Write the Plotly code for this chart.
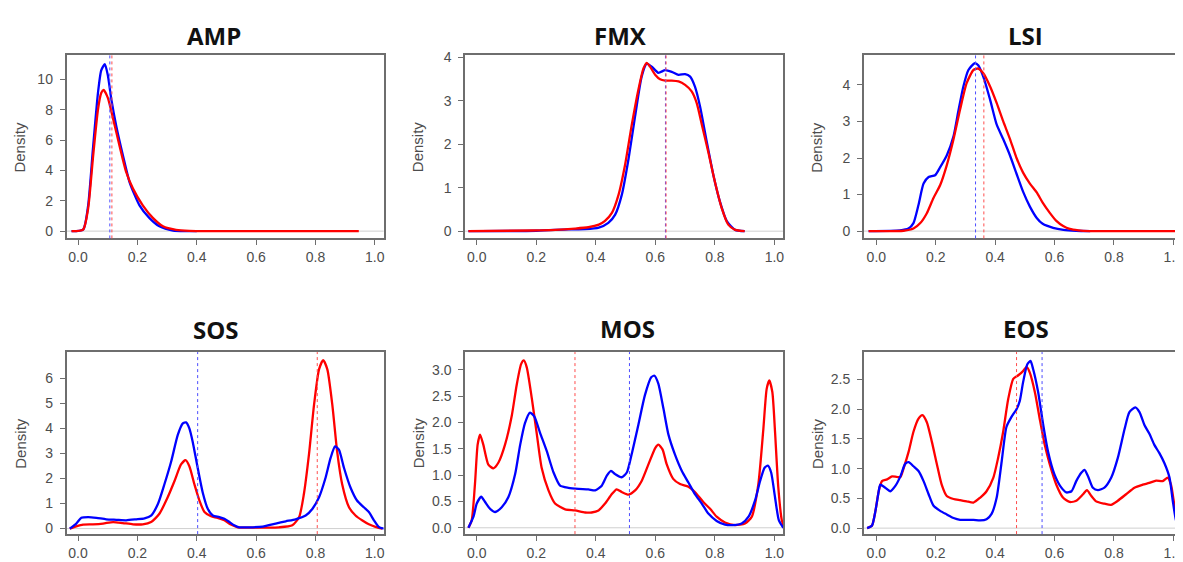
import plotly.graph_objects as go

# The page body has an 8px default margin, so the figure is drawn 8px in from the
# top-left corner; all pixel positions below are screen positions, shifted by OFF.
OFF = 8
W, H = 1183 - OFF, 562 - OFF
BLUE = "#0000ff"
RED = "#ff0000"
BLUE_DOT = "#4d4dff"
RED_DOT = "#ff4d4d"

# ---------------- data ----------------
titles = ["AMP", "FMX", "LSI", "SOS", "MOS", "EOS"]
x_tick_vals = [0, 0.2, 0.4, 0.6, 0.8, 1.0]
x_tick_text = ["0.0", "0.2", "0.4", "0.6", "0.8", "1.0"]

amp_y_ticks = [0, 2, 4, 6, 8, 10]
amp_y_text = ["0", "2", "4", "6", "8", "10"]
fmx_y_ticks = [0, 1, 2, 3, 4]
fmx_y_text = ["0", "1", "2", "3", "4"]
lsi_y_ticks = [0, 1, 2, 3, 4]
lsi_y_text = ["0", "1", "2", "3", "4"]
sos_y_ticks = [0, 1, 2, 3, 4, 5, 6]
sos_y_text = ["0", "1", "2", "3", "4", "5", "6"]
mos_y_ticks = [0, 0.5, 1.0, 1.5, 2.0, 2.5, 3.0]
mos_y_text = ["0.0", "0.5", "1.0", "1.5", "2.0", "2.5", "3.0"]
eos_y_ticks = [0, 0.5, 1.0, 1.5, 2.0, 2.5]
eos_y_text = ["0.0", "0.5", "1.0", "1.5", "2.0", "2.5"]

amp_blue_x = [-0.022, 0.017, 0.034, 0.05, 0.067, 0.078, 0.09, 0.10, 0.112, 0.129, 0.151, 0.174, 0.207, 0.24, 0.274, 0.32, 0.364, 0.40]
amp_blue_y = [0, 0.1, 1.7, 5.4, 9.1, 10.6, 11.0, 10.3, 8.7, 6.9, 5.0, 3.2, 1.7, 0.87, 0.32, 0.04, 0.0, 0.0]
amp_red_x = [-0.022, 0.017, 0.034, 0.05, 0.067, 0.078, 0.086, 0.10, 0.118, 0.14, 0.162, 0.185, 0.218, 0.252, 0.286, 0.33, 0.375, 0.5, 0.7, 0.946]
amp_red_y = [0, 0.1, 1.5, 4.8, 8.0, 9.1, 9.3, 8.8, 7.4, 5.6, 3.9, 2.8, 1.7, 0.87, 0.32, 0.09, 0.02, 0, 0, 0]

fmx_blue_x = [-0.028, 0.2, 0.308, 0.364, 0.41, 0.442, 0.465, 0.487, 0.51, 0.532, 0.554, 0.571, 0.588, 0.61, 0.633, 0.655, 0.678, 0.70, 0.717, 0.733, 0.75, 0.773, 0.795, 0.817, 0.84, 0.868, 0.90]
fmx_blue_y = [0, 0.01, 0.04, 0.045, 0.08, 0.19, 0.38, 0.83, 1.67, 2.65, 3.56, 3.86, 3.79, 3.65, 3.71, 3.67, 3.6, 3.62, 3.56, 3.33, 2.88, 2.05, 1.29, 0.68, 0.23, 0.03, 0]
fmx_red_x = [-0.028, 0.185, 0.263, 0.33, 0.375, 0.41, 0.43, 0.454, 0.476, 0.498, 0.52, 0.543, 0.56, 0.571, 0.582, 0.6, 0.616, 0.633, 0.655, 0.678, 0.70, 0.722, 0.739, 0.756, 0.778, 0.80, 0.823, 0.845, 0.868, 0.90]
fmx_red_y = [0, 0.015, 0.03, 0.06, 0.09, 0.15, 0.23, 0.42, 0.83, 1.52, 2.42, 3.26, 3.75, 3.88, 3.79, 3.6, 3.5, 3.47, 3.47, 3.45, 3.37, 3.22, 2.95, 2.46, 1.82, 1.14, 0.53, 0.15, 0.03, 0]

lsi_blue_x = [-0.026, 0.08, 0.108, 0.125, 0.142, 0.159, 0.176, 0.198, 0.215, 0.237, 0.26, 0.276, 0.293, 0.31, 0.332, 0.343, 0.36, 0.383, 0.405, 0.427, 0.45, 0.472, 0.494, 0.517, 0.54, 0.56, 0.595, 0.63, 0.673, 0.72]
lsi_blue_y = [0, 0.02, 0.07, 0.22, 0.72, 1.3, 1.48, 1.53, 1.75, 2.07, 2.6, 3.28, 3.96, 4.41, 4.6, 4.54, 4.23, 3.6, 2.92, 2.52, 2.07, 1.57, 1.08, 0.67, 0.36, 0.2, 0.09, 0.036, 0.01, 0]
lsi_red_x = [-0.026, 0.092, 0.125, 0.148, 0.17, 0.192, 0.215, 0.237, 0.26, 0.282, 0.304, 0.327, 0.343, 0.36, 0.383, 0.405, 0.427, 0.45, 0.472, 0.494, 0.517, 0.54, 0.56, 0.584, 0.606, 0.629, 0.651, 0.68, 0.718, 0.9, 1.03]
lsi_red_y = [0, 0.01, 0.07, 0.22, 0.49, 0.9, 1.26, 1.8, 2.52, 3.33, 4.05, 4.41, 4.45, 4.32, 3.96, 3.51, 3.01, 2.52, 2.0, 1.6, 1.3, 1.06, 0.78, 0.5, 0.28, 0.14, 0.06, 0.02, 0, 0, 0]

sos_blue_x = [-0.028, -0.006, 0.011, 0.034, 0.062, 0.095, 0.129, 0.162, 0.196, 0.224, 0.246, 0.269, 0.291, 0.314, 0.336, 0.353, 0.364, 0.375, 0.386, 0.403, 0.42, 0.437, 0.454, 0.476, 0.493, 0.51, 0.526, 0.543, 0.577, 0.622, 0.666, 0.70, 0.733, 0.767, 0.79, 0.812, 0.834, 0.851, 0.866, 0.879, 0.896, 0.918, 0.94, 0.963, 0.98, 0.997, 1.013, 1.03]
sos_blue_y = [0, 0.2, 0.43, 0.46, 0.43, 0.37, 0.35, 0.33, 0.37, 0.41, 0.52, 0.98, 1.77, 2.69, 3.74, 4.2, 4.24, 4.0, 3.48, 2.43, 1.44, 0.79, 0.52, 0.46, 0.39, 0.26, 0.13, 0.05, 0.05, 0.08, 0.2, 0.29, 0.37, 0.52, 0.79, 1.25, 2.03, 2.82, 3.28, 3.15, 2.43, 1.64, 1.12, 0.85, 0.66, 0.33, 0.07, 0]
sos_red_x = [-0.028, -0.006, 0.017, 0.05, 0.084, 0.118, 0.151, 0.185, 0.218, 0.246, 0.274, 0.302, 0.325, 0.347, 0.362, 0.375, 0.392, 0.409, 0.426, 0.448, 0.47, 0.493, 0.515, 0.538, 0.577, 0.633, 0.677, 0.722, 0.745, 0.761, 0.778, 0.795, 0.812, 0.826, 0.84, 0.857, 0.873, 0.89, 0.913, 0.935, 0.957, 0.98, 1.002, 1.025]
sos_red_y = [0, 0.09, 0.16, 0.17, 0.2, 0.26, 0.22, 0.17, 0.17, 0.26, 0.59, 1.25, 1.9, 2.56, 2.73, 2.49, 1.77, 1.12, 0.66, 0.49, 0.43, 0.33, 0.16, 0.05, 0.04, 0.04, 0.05, 0.13, 0.46, 1.38, 2.95, 4.92, 6.36, 6.73, 6.36, 4.92, 3.08, 1.77, 0.85, 0.52, 0.33, 0.17, 0.07, 0]

mos_blue_x = [-0.028, -0.011, 0.0, 0.015, 0.028, 0.045, 0.062, 0.084, 0.106, 0.129, 0.146, 0.162, 0.179, 0.194, 0.213, 0.235, 0.258, 0.28, 0.308, 0.342, 0.375, 0.398, 0.42, 0.437, 0.451, 0.465, 0.487, 0.504, 0.52, 0.543, 0.565, 0.586, 0.597, 0.61, 0.627, 0.644, 0.666, 0.689, 0.711, 0.733, 0.756, 0.778, 0.806, 0.834, 0.862, 0.89, 0.913, 0.935, 0.952, 0.967, 0.978, 0.989, 1.002, 1.015, 1.03]
mos_blue_y = [0, 0.21, 0.46, 0.59, 0.49, 0.36, 0.3, 0.39, 0.58, 1.02, 1.58, 1.99, 2.19, 2.11, 1.8, 1.46, 1.05, 0.8, 0.76, 0.74, 0.73, 0.71, 0.8, 0.99, 1.08, 1.02, 0.96, 1.05, 1.39, 1.96, 2.52, 2.86, 2.89, 2.74, 2.27, 1.77, 1.39, 1.08, 0.86, 0.64, 0.46, 0.27, 0.13, 0.06, 0.05, 0.08, 0.21, 0.52, 0.89, 1.14, 1.18, 1.05, 0.58, 0.14, 0]
mos_red_x = [-0.028, -0.017, -0.006, 0.003, 0.011, 0.022, 0.039, 0.056, 0.073, 0.095, 0.118, 0.134, 0.149, 0.158, 0.168, 0.185, 0.202, 0.218, 0.241, 0.263, 0.297, 0.33, 0.364, 0.386, 0.409, 0.431, 0.454, 0.47, 0.487, 0.51, 0.532, 0.554, 0.577, 0.6, 0.61, 0.624, 0.638, 0.66, 0.683, 0.711, 0.733, 0.761, 0.784, 0.806, 0.834, 0.868, 0.901, 0.924, 0.946, 0.963, 0.974, 0.983, 0.993, 1.002, 1.013, 1.025, 1.034]
mos_red_y = [0, 0.14, 0.83, 1.58, 1.77, 1.58, 1.2, 1.13, 1.24, 1.58, 2.14, 2.71, 3.11, 3.18, 3.05, 2.46, 1.77, 1.14, 0.71, 0.46, 0.35, 0.33, 0.29, 0.29, 0.33, 0.46, 0.64, 0.73, 0.68, 0.63, 0.71, 0.89, 1.21, 1.52, 1.58, 1.49, 1.21, 0.93, 0.83, 0.78, 0.68, 0.49, 0.36, 0.21, 0.1, 0.05, 0.08, 0.21, 0.83, 1.89, 2.64, 2.8, 2.58, 1.83, 0.77, 0.14, 0]

eos_blue_x = [-0.031, -0.015, -0.003, 0.008, 0.013, 0.03, 0.047, 0.064, 0.081, 0.097, 0.109, 0.125, 0.142, 0.159, 0.176, 0.192, 0.215, 0.237, 0.26, 0.282, 0.304, 0.327, 0.349, 0.371, 0.388, 0.405, 0.422, 0.438, 0.455, 0.472, 0.483, 0.494, 0.508, 0.519, 0.528, 0.545, 0.562, 0.578, 0.6, 0.623, 0.64, 0.657, 0.673, 0.69, 0.701, 0.713, 0.729, 0.746, 0.768, 0.791, 0.813, 0.836, 0.852, 0.872, 0.886, 0.903, 0.919, 0.936, 0.953, 0.97, 0.987, 0.998, 1.009, 1.02]
eos_blue_y = [0, 0.04, 0.29, 0.62, 0.73, 0.68, 0.62, 0.71, 0.87, 1.08, 1.11, 1.04, 0.96, 0.79, 0.57, 0.38, 0.29, 0.23, 0.17, 0.14, 0.14, 0.14, 0.13, 0.15, 0.24, 0.51, 1.12, 1.7, 1.87, 2.0, 2.14, 2.45, 2.75, 2.81, 2.67, 2.28, 1.73, 1.29, 0.9, 0.68, 0.6, 0.62, 0.79, 0.93, 0.98, 0.87, 0.68, 0.64, 0.68, 0.85, 1.18, 1.67, 1.95, 2.03, 1.95, 1.73, 1.59, 1.4, 1.26, 1.09, 0.85, 0.46, 0.13, 0]
eos_red_x = [-0.031, -0.015, -0.003, 0.008, 0.019, 0.036, 0.053, 0.069, 0.081, 0.092, 0.109, 0.125, 0.142, 0.155, 0.17, 0.187, 0.204, 0.22, 0.237, 0.26, 0.282, 0.304, 0.327, 0.349, 0.371, 0.394, 0.41, 0.427, 0.444, 0.461, 0.478, 0.494, 0.506, 0.517, 0.534, 0.55, 0.567, 0.584, 0.606, 0.629, 0.651, 0.673, 0.696, 0.709, 0.724, 0.74, 0.768, 0.79, 0.813, 0.841, 0.869, 0.897, 0.919, 0.942, 0.964, 0.981, 0.992, 1.003, 1.015, 1.03]
eos_red_y = [0, 0.04, 0.29, 0.62, 0.79, 0.82, 0.87, 0.86, 0.86, 1.01, 1.29, 1.62, 1.84, 1.9, 1.78, 1.45, 1.07, 0.73, 0.54, 0.49, 0.47, 0.45, 0.43, 0.51, 0.62, 0.85, 1.18, 1.62, 2.17, 2.51, 2.57, 2.64, 2.71, 2.61, 2.28, 1.84, 1.4, 1.07, 0.73, 0.51, 0.44, 0.46, 0.57, 0.64, 0.54, 0.45, 0.41, 0.39, 0.46, 0.57, 0.68, 0.73, 0.76, 0.8, 0.79, 0.85, 0.73, 0.4, 0.07, 0]

# dotted mean lines (blue, red)
amp_means = [0.107, 0.114]
fmx_means = [0.634, 0.636]
lsi_means = [0.334, 0.362]
sos_means = [0.403, 0.806]
mos_means = [0.513, 0.33]
eos_means = [0.558, 0.472]

# ---------------- layout geometry (screen pixels) ----------------
col_px = [(66.7, 385.0), (466.7, 786.0), (866.7, 1183.0)]
row_px = [(50.0, 235.7), (351.0, 535.7)]
x_ranges = [[-0.039, 1.030], [-0.039, 1.030], [-0.0423, 1.019]]
y_ranges = [[-0.48, 11.58], [-0.167, 4.05], [-0.2, 4.81],
            [-0.22, 7.05], [-0.12, 3.34], [-0.1, 2.96]]
title_pos = [(215, 30), (623, 30), (1029, 30), (217, 328), (630, 327), (1029, 327)]

panels = [
    (amp_blue_x, amp_blue_y, amp_red_x, amp_red_y, amp_means, amp_y_ticks, amp_y_text),
    (fmx_blue_x, fmx_blue_y, fmx_red_x, fmx_red_y, fmx_means, fmx_y_ticks, fmx_y_text),
    (lsi_blue_x, lsi_blue_y, lsi_red_x, lsi_red_y, lsi_means, lsi_y_ticks, lsi_y_text),
    (sos_blue_x, sos_blue_y, sos_red_x, sos_red_y, sos_means, sos_y_ticks, sos_y_text),
    (mos_blue_x, mos_blue_y, mos_red_x, mos_red_y, mos_means, mos_y_ticks, mos_y_text),
    (eos_blue_x, eos_blue_y, eos_red_x, eos_red_y, eos_means, eos_y_ticks, eos_y_text),
]


def px_x(v):
    return (v - OFF) / W


def px_y(v):
    return 1 - (v - OFF) / H


FRAME = "#6e6e6e"
TICKFONT = dict(family="Liberation Sans, Arial, sans-serif", size=14, color="#4d4d4d")

fig = go.Figure()
shapes = []
annotations = []
layout_axes = {}

for i, (bx, by, rx, ry, means, yt, ytt) in enumerate(panels):
    n = i + 1
    r, c = divmod(i, 3)
    xs = "" if n == 1 else str(n)
    xref, yref = "x" + xs, "y" + xs
    x0p, x1p = col_px[c]
    y0p, y1p = row_px[r]

    red_trace = go.Scatter(x=rx, y=ry, mode="lines", xaxis=xref, yaxis=yref,
                           line=dict(color=RED, width=2.3, shape="spline", smoothing=0.6),
                           showlegend=False, hoverinfo="skip")
    blue_trace = go.Scatter(x=bx, y=by, mode="lines", xaxis=xref, yaxis=yref,
                            line=dict(color=BLUE, width=2.3, shape="spline", smoothing=0.6),
                            showlegend=False, hoverinfo="skip")
    if r == 0:
        fig.add_trace(blue_trace)
        fig.add_trace(red_trace)
    else:
        fig.add_trace(red_trace)
        fig.add_trace(blue_trace)

    layout_axes["xaxis" + xs] = dict(
        domain=[px_x(x0p), min(1.0, px_x(x1p))], range=x_ranges[c], anchor=yref,
        tickmode="array", tickvals=x_tick_vals, ticktext=x_tick_text,
        ticks="outside", ticklen=5, tickwidth=1, tickcolor=FRAME,
        showline=True, mirror=True, linecolor=FRAME, linewidth=1.5,
        showgrid=False, zeroline=False, tickfont=TICKFONT,
        ticklabeloverflow="allow", fixedrange=True,
    )
    layout_axes["yaxis" + xs] = dict(
        domain=[px_y(y1p), px_y(y0p)], range=y_ranges[i], anchor=xref,
        tickmode="array", tickvals=yt, ticktext=ytt,
        ticks="outside", ticklen=5, tickwidth=1, tickcolor=FRAME,
        showline=True, mirror=True, linecolor=FRAME, linewidth=1.5,
        showgrid=False, zeroline=False, tickfont=TICKFONT, ticklabelstandoff=4,
        fixedrange=True,
    )

    # gray baseline at density 0
    shapes.append(dict(type="line", xref=xref + " domain", yref=yref, x0=0, x1=1, y0=0, y1=0,
                       line=dict(color="#cfcfcf", width=1), layer="below"))
    # dotted mean lines
    for val, col in zip(means, [BLUE_DOT, RED_DOT]):
        shapes.append(dict(type="line", xref=xref, yref=yref + " domain", x0=val, x1=val, y0=0, y1=1,
                           line=dict(color=col, width=1, dash="dot"), layer="above"))

    # panel title
    tx, ty = title_pos[i]
    annotations.append(dict(text="<b>" + titles[i] + "</b>", xref="paper", yref="paper",
                            x=px_x(tx), y=px_y(ty), xanchor="center", yanchor="middle",
                            showarrow=False,
                            font=dict(family="Open Sans, sans-serif", size=24, color="#111111")))
    # y axis label
    annotations.append(dict(text="Density", xref="paper", yref="paper",
                            x=px_x(x0p - 47), y=px_y((y0p + y1p) / 2),
                            xanchor="center", yanchor="middle", textangle=-90, showarrow=False,
                            font=dict(family="Liberation Sans, Arial, sans-serif", size=15, color="#4d4d4d")))

fig.update_layout(
    width=W, height=H, autosize=False,
    margin=dict(l=0, r=0, t=0, b=0),
    paper_bgcolor="white", plot_bgcolor="white",
    shapes=shapes, annotations=annotations,
    **layout_axes,
)

fig.write_html("out.html")
